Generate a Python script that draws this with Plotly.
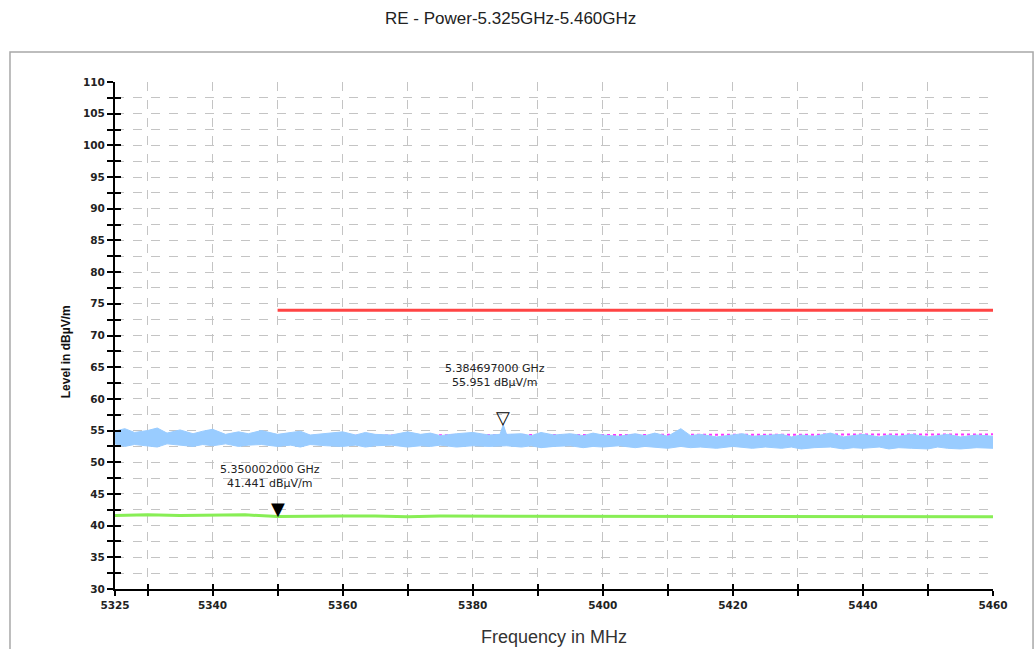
import plotly.graph_objects as go

# ---------------- data ----------------
title_text = "RE - Power-5.325GHz-5.460GHz"
x_title = "Frequency in MHz"
y_title = "Level in dBµV/m"

# blue measurement trace, drawn as its upper / lower envelope
blue_freq = [5325, 5326.5, 5328, 5330, 5331.5, 5333, 5335, 5337, 5338.5, 5340,
             5342, 5344, 5345.5, 5347.5, 5350, 5352, 5353.5, 5355, 5357.5, 5360,
             5362, 5363.5, 5365, 5367.5, 5370, 5372, 5373.5, 5375, 5377.5, 5380,
             5382.5, 5384.2, 5384.697, 5385.2, 5387.5, 5389, 5390.5, 5392.5, 5395, 5397,
             5398.5, 5400, 5402.5, 5405, 5406.5, 5408, 5410, 5412, 5413.5, 5415,
             5417.5, 5420, 5421.5, 5423, 5425, 5427.5, 5429, 5430.5, 5432.5, 5435,
             5437, 5438.5, 5440, 5442.5, 5444, 5445.5, 5447.5, 5450, 5451.5, 5453,
             5455, 5457.5, 5460]
blue_upper = [54.9, 55.3, 54.7, 55.0, 55.4, 54.6, 55.1, 54.5, 54.9, 55.2,
              54.4, 54.8, 54.5, 55.0, 54.4, 54.7, 54.9, 54.3, 54.6, 54.8,
              54.3, 54.7, 54.4, 54.3, 54.8, 54.4, 54.6, 54.2, 54.5, 54.7,
              54.3, 54.4, 55.95, 54.4, 54.5, 54.2, 54.7, 54.3, 54.5, 54.2,
              54.6, 54.3, 54.1, 54.5, 54.2, 54.6, 54.1, 55.3, 54.2, 54.4,
              54.0, 54.3, 54.5, 54.1, 54.2, 54.4, 54.0, 54.3, 54.1, 54.6,
              54.0, 54.2, 54.4, 54.0, 54.3, 54.1, 54.4, 54.0, 54.2, 54.4,
              54.0, 54.3, 54.1]
blue_lower = [52.9, 52.5, 52.8, 52.6, 52.4, 52.9, 52.7, 52.5, 52.8, 52.6,
              52.9, 52.5, 52.7, 52.8, 52.5, 52.7, 52.4, 52.8, 52.6, 52.5,
              52.7, 52.4, 52.6, 52.7, 52.4, 52.6, 52.5, 52.7, 52.4, 52.6,
              52.5, 52.6, 52.6, 52.6, 52.4, 52.6, 52.3, 52.5, 52.6, 52.3,
              52.5, 52.4, 52.6, 52.3, 52.5, 52.4, 52.2, 52.5, 52.3, 52.4,
              52.2, 52.5, 52.3, 52.2, 52.4, 52.2, 52.4, 52.1, 52.3, 52.4,
              52.1, 52.3, 52.2, 52.4, 52.1, 52.3, 52.2, 52.1, 52.4, 52.2,
              52.1, 52.3, 52.2]

# magenta (max hold) trace, mostly hidden behind the blue one
mag_freq = [5325, 5335, 5345, 5355, 5365, 5375, 5385, 5395, 5405, 5415,
            5425, 5435, 5445, 5460]
mag_level = [54.0, 54.1, 54.1, 54.2, 54.2, 54.3, 54.3, 54.3, 54.3, 54.4,
             54.4, 54.4, 54.4, 54.4]

# green (average) trace
green_freq = [5325, 5330, 5335, 5340, 5345, 5350, 5355, 5360, 5365, 5370,
              5375, 5380, 5385, 5390, 5395, 5400, 5405, 5410, 5415, 5420,
              5425, 5430, 5435, 5440, 5445, 5450, 5455, 5460]
green_level = [41.6, 41.7, 41.6, 41.6, 41.7, 41.44, 41.5, 41.5, 41.5, 41.4,
               41.5, 41.5, 41.4, 41.5, 41.5, 41.4, 41.4, 41.5, 41.4, 41.4,
               41.4, 41.4, 41.4, 41.4, 41.4, 41.4, 41.4, 41.4]

# red limit line
limit_freq = [5350, 5460]
limit_level = [74, 74]

# markers
marker_freq = [5350.002, 5384.697]
marker_level = [41.441, 55.951]
marker_labels = ["5.350002000 GHz<br>41.441 dBµV/m", "5.384697000 GHz<br>55.951 dBµV/m"]
marker_symbols = ["▼", "▽"]
marker_label_shift = [24, 34]

# axes
x_range = [5325, 5460]
y_range = [30, 110]
x_tickvals = [5325, 5330, 5340, 5350, 5360, 5370, 5380, 5390, 5400, 5410,
              5420, 5430, 5440, 5450, 5460]
x_ticktext = ["5325", "", "5340", "", "5360", "", "5380", "", "5400", "",
              "5420", "", "5440", "", "5460"]
y_tickvals = [30, 35, 40, 45, 50, 55, 60, 65, 70, 75, 80, 85, 90, 95, 100, 105, 110]

# ---------------- figure ----------------
fig = go.Figure()

fig.add_trace(go.Scatter(x=mag_freq, y=mag_level, mode="lines",
                         line=dict(color="#ff33ff", width=2, dash="dot"),
                         hoverinfo="skip"))
fig.add_trace(go.Scatter(x=blue_freq, y=blue_lower, mode="lines",
                         line=dict(color="#99ccff", width=1), hoverinfo="skip"))
fig.add_trace(go.Scatter(x=blue_freq, y=blue_upper, mode="lines",
                         line=dict(color="#99ccff", width=1),
                         fill="tonexty", fillcolor="#99ccff", hoverinfo="skip"))
fig.add_trace(go.Scatter(x=green_freq, y=green_level, mode="lines",
                         line=dict(color="#88ee55", width=3), hoverinfo="skip"))
fig.add_trace(go.Scatter(x=limit_freq, y=limit_level, mode="lines",
                         line=dict(color="#ff4444", width=3), hoverinfo="skip",
                         xaxis="x2", yaxis="y2"))

font_family = "Liberation Sans, Arial, sans-serif"
tick_family = "DejaVu Sans, sans-serif"

for f, lv, sym, lab, sh in zip(marker_freq, marker_level, marker_symbols,
                               marker_labels, marker_label_shift):
    fig.add_annotation(x=f, y=lv, text=sym, showarrow=False, yanchor="bottom",
                       yshift=-5, font=dict(family="DejaVu Sans", size=18, color="black"))
    fig.add_annotation(x=f, y=lv, text=lab, showarrow=False, yanchor="bottom",
                       xshift=-8, yshift=sh, align="center",
                       font=dict(family=tick_family, size=11, color="#222"))

# titles as annotations
fig.add_annotation(xref="paper", yref="paper", x=0.451, y=1.126, yanchor="middle",
                   text=title_text, showarrow=False,
                   font=dict(family=font_family, size=17, color="#222"))
fig.add_annotation(xref="paper", yref="paper", x=0.5, y=-0.094, yanchor="middle",
                   text=x_title, showarrow=False,
                   font=dict(family=font_family, size=18, color="#333"))
fig.add_annotation(xref="paper", yref="paper", x=-0.066, y=0.467, text="<b>" + y_title + "</b>",
                   textangle=-90, showarrow=False,
                   font=dict(family=font_family, size=12, color="#111"))

# outer frame
fig.add_shape(type="rect", xref="paper", yref="paper", x0=-0.1196, x1=1.0456,
              y0=-0.14, y1=1.059, line=dict(color="#a8a8a8", width=1.5), layer="below")

grid = dict(showgrid=True, gridcolor="#c4c4c4", griddash="dash", gridwidth=1)

fig.update_layout(
    width=1035, height=649,
    margin=dict(l=115, r=42, t=82, b=60),
    paper_bgcolor="white", plot_bgcolor="white",
    showlegend=False,
    xaxis=dict(range=x_range, tickvals=x_tickvals, ticktext=x_ticktext,
               ticks="outside", ticklen=5, tickwidth=1.5, tickcolor="black",
               showline=True, linecolor="black", linewidth=2, zeroline=False,
               tickfont=dict(family=tick_family, size=10.5, color="#222", weight="bold"),
               **grid),
    yaxis=dict(range=y_range, tickvals=y_tickvals,
               ticks="outside", ticklen=6, tickwidth=1.5, tickcolor="black",
               showline=True, linecolor="black", linewidth=2, zeroline=False,
               minor=dict(dtick=2.5, ticks="outside", ticklen=6, tickwidth=1.5,
                          tickcolor="black", showgrid=True, gridcolor="#c4c4c4",
                          griddash="dash"),
               tickfont=dict(family=tick_family, size=10.5, color="#222", weight="bold"),
               **grid),
    xaxis2=dict(overlaying="x", matches="x", anchor="y2", side="bottom",
                tickvals=x_tickvals, ticks="inside", ticklen=5, tickwidth=1.5,
                tickcolor="black", showticklabels=False, showgrid=False,
                showline=False, zeroline=False),
    yaxis2=dict(overlaying="y", matches="y", anchor="x2", side="left",
                dtick=2.5, tick0=30, ticks="inside", ticklen=6, tickwidth=1.5,
                tickcolor="black", showticklabels=False, showgrid=False,
                showline=False, zeroline=False),
)

fig.write_html("out.html")
